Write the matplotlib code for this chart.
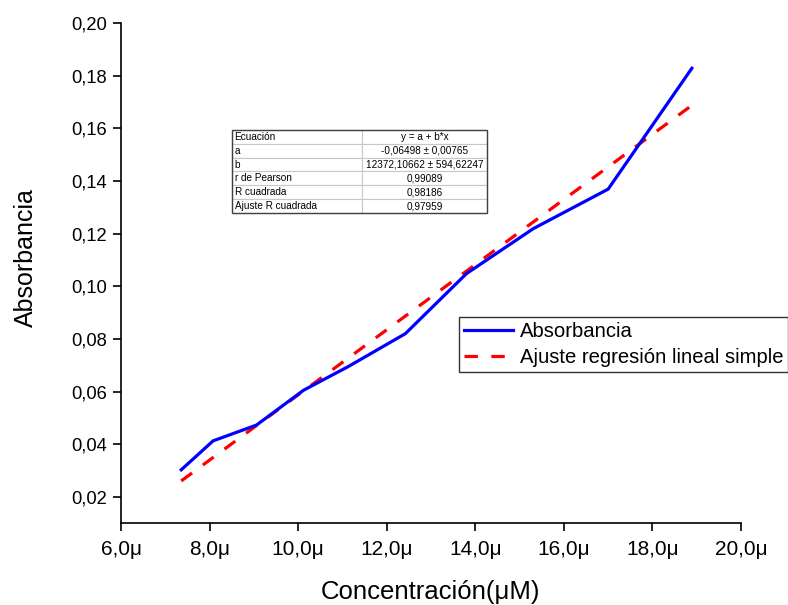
import matplotlib
matplotlib.use("Agg")
import matplotlib.pyplot as plt
import numpy as np
from matplotlib.ticker import FuncFormatter
from matplotlib.patches import Rectangle

plt.rcParams['font.family'] = ['Liberation Sans', 'DejaVu Sans']

# Measured concentrations (µM) and absorbances
conc_uM = [7.36, 8.08, 9.06, 10.12, 11.13, 12.42, 13.80, 15.31, 17.00, 18.89]
absorb = [0.0303, 0.0413, 0.0473, 0.0605, 0.0695, 0.0820, 0.1048, 0.1219, 0.1369, 0.1828]

# Linear fit results
fit_a = -0.06498
fit_b = 12372.10662

table_rows = [
    ["Ecuación", "y = a + b*x"],
    ["a", "-0,06498 ± 0,00765"],
    ["b", "12372,10662 ± 594,62247"],
    ["r de Pearson", "0,99089"],
    ["R cuadrada", "0,98186"],
    ["Ajuste R cuadrada", "0,97959"],
]

x_ticks = [6, 8, 10, 12, 14, 16, 18, 20]
y_ticks = [0.02, 0.04, 0.06, 0.08, 0.10, 0.12, 0.14, 0.16, 0.18, 0.20]

fig = plt.figure(figsize=(7.88, 6.05), dpi=100)
ax = fig.add_axes([121 / 788, 1 - 523 / 605, 620 / 788, 500 / 605])

x_arr = np.array(conc_uM)
ax.plot(x_arr, absorb, color=(0, 0, 1), lw=2.3, label="Absorbancia", zorder=3)
fit_y = fit_a + fit_b * x_arr * 1e-6
ax.plot(x_arr, fit_y, color=(1, 0, 0), lw=2.3, linestyle=(0, (4.2, 4.2)),
        label="Ajuste regresión lineal simple", zorder=2)

ax.set_xlim(6, 20)
ax.set_ylim(0.0101, 0.20)
ax.set_xticks(x_ticks)
ax.set_yticks(y_ticks)
ax.xaxis.set_major_formatter(FuncFormatter(lambda v, p: f"{v:.1f}".replace('.', ',') + "μ"))
ax.yaxis.set_major_formatter(FuncFormatter(lambda v, p: f"{v:.2f}".replace('.', ',')))

for s in ["top", "right"]:
    ax.spines[s].set_visible(False)
for s in ["left", "bottom"]:
    ax.spines[s].set_linewidth(1.2)
ax.tick_params(axis='both', direction='out', length=6, width=1.2)
ax.tick_params(axis='x', labelsize=15, pad=6)
ax.tick_params(axis='y', labelsize=13.2, pad=4)

ax.set_xlabel("Concentración(μM)", fontsize=18.5, labelpad=15)
ax.set_ylabel("Absorbancia", fontsize=18)
ax.yaxis.set_label_coords((38 - 121) / 620, (523 - 257.5) / 500)

leg = ax.legend(loc='upper left', bbox_to_anchor=((459 - 121) / 620, (523 - 317) / 500),
                fontsize=14.6, frameon=True, fancybox=False, borderpad=0.25,
                handlelength=2.4, handletextpad=0.35, labelspacing=0.35, borderaxespad=0)
leg.get_frame().set_edgecolor('black')
leg.get_frame().set_linewidth(1.0)

# Fit statistics table
tb = ax.table(cellText=table_rows, colWidths=[0.51, 0.49], cellLoc='left',
              bbox=[(232 - 121) / 620, (523 - 213) / 500, (487 - 232) / 620, (213 - 130) / 500])
tb.auto_set_font_size(False)
tb.set_fontsize(7.2)
for (r, c), cell in tb.get_celld().items():
    cell.set_edgecolor('#c8c8c8')
    cell.set_linewidth(0.8)
    cell.PAD = 0.02
    if c == 1:
        cell.get_text().set_ha('center')
        cell._loc = 'center'
tb.set_zorder(4)
ax.add_patch(Rectangle(((232 - 121) / 620, (523 - 213) / 500), (487 - 232) / 620, (213 - 130) / 500,
                       transform=ax.transAxes, fill=False, edgecolor='#404040', lw=1.0, zorder=5))

fig.savefig("out.png", dpi=100)
